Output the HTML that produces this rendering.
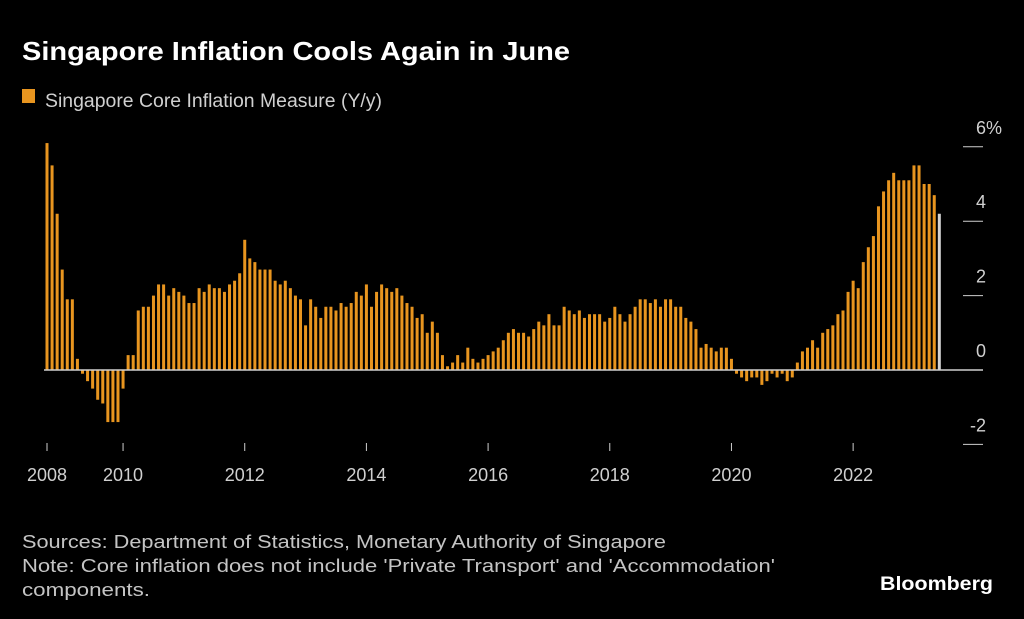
<!DOCTYPE html>
<html><head><meta charset="utf-8"><style>
html,body{margin:0;padding:0;background:#000;}
svg{display:block;font-family:"Liberation Sans",sans-serif;}
</style></head><body>
<svg id="chart" width="1024" height="619" viewBox="0 0 1024 619">
<rect x="0" y="0" width="1024" height="619" fill="#000"/>
<text x="22" y="60" fill="#fff" font-size="26" font-weight="bold" textLength="548" lengthAdjust="spacingAndGlyphs">Singapore Inflation Cools Again in June</text>
<rect x="22" y="89" width="13" height="14" fill="#e8951f"/>
<text x="45" y="107" fill="#d0d0d0" font-size="19" textLength="337" lengthAdjust="spacingAndGlyphs">Singapore Core Inflation Measure (Y/y)</text>
<g id="bars"></g>
<g id="yaxis"></g>
<g id="xaxis"></g>
<text x="22" y="548" fill="#c4c4c4" font-size="18" textLength="644" lengthAdjust="spacingAndGlyphs">Sources: Department of Statistics, Monetary Authority of Singapore</text>
<text x="22" y="572" fill="#c4c4c4" font-size="18" textLength="753" lengthAdjust="spacingAndGlyphs">Note: Core inflation does not include 'Private Transport' and 'Accommodation'</text>
<text x="22" y="596" fill="#c4c4c4" font-size="18" textLength="128" lengthAdjust="spacingAndGlyphs">components.</text>
<text x="880" y="590" fill="#fff" font-size="19" font-weight="bold" textLength="113" lengthAdjust="spacingAndGlyphs">Bloomberg</text>
</svg>
<script>
// Monthly values starting Oct 2008
const startYear = 2008, startMonth = 9; // 0-based month (Oct)
const values = [
6.1,5.5,4.2,2.7,1.9,1.9,0.3,-0.1,-0.3,-0.5,-0.8,-0.9,-1.4,-1.4,-1.4,
-0.5,0.4,0.4,1.6,1.7,1.7,2.0,2.3,2.3,2.0,2.2,2.1,
2.0,1.8,1.8,2.2,2.1,2.3,2.2,2.2,2.1,2.3,2.4,2.6,
3.5,3.0,2.9,2.7,2.7,2.7,2.4,2.3,2.4,2.2,2.0,1.9,
1.2,1.9,1.7,1.4,1.7,1.7,1.6,1.8,1.7,1.8,2.1,2.0,
2.3,1.7,2.1,2.3,2.2,2.1,2.2,2.0,1.8,1.7,1.4,1.5,
1.0,1.3,1.0,0.4,0.1,0.2,0.4,0.2,0.6,0.3,0.2,0.3,
0.4,0.5,0.6,0.8,1.0,1.1,1.0,1.0,0.9,1.1,1.3,1.2,
1.5,1.2,1.2,1.7,1.6,1.5,1.6,1.4,1.5,1.5,1.5,1.3,
1.4,1.7,1.5,1.3,1.5,1.7,1.9,1.9,1.8,1.9,1.7,1.9,
1.9,1.7,1.7,1.4,1.3,1.1,0.6,0.7,0.6,0.5,0.6,0.6,
0.3,-0.1,-0.2,-0.3,-0.2,-0.2,-0.4,-0.3,-0.1,-0.2,-0.1,-0.3,-0.2,
0.2,0.5,0.6,0.8,0.6,1.0,1.1,1.2,1.5,1.6,2.1,
2.4,2.2,2.9,3.3,3.6,4.4,4.8,5.1,5.3,5.1,5.1,5.1,
5.5,5.5,5.0,5.0,4.7,4.2
];
const yTicks = [6,4,2,0,-2];
const yTickLabels = ["6%","4","2","0","-2"];
const xTickYears = [2008,2010,2012,2014,2016,2018,2020,2022];
const xTickIdx = [0,15,39,63,87,111,135,159];

const NS = "http://www.w3.org/2000/svg";
const x0 = 47, step = 5.07, y0 = 370, ppu = 37.2;
function xPos(i){ return x0 + i*step; }
function yPos(v){ return y0 - v*ppu; }
function mk(tag, attrs){ const e=document.createElementNS(NS,tag); for(const k in attrs) e.setAttribute(k,attrs[k]); return e; }

const bars = document.getElementById('bars');
values.forEach((v,i)=>{
  const last = i===values.length-1;
  const top = Math.min(yPos(v), y0), h = Math.abs(yPos(v)-y0);
  const r = mk('rect',{x:(xPos(i)-1.5).toFixed(2),y:top.toFixed(2),width:3,height:Math.max(h,0.5).toFixed(2),fill:last?'#d2d2d2':'#e8951f'});
  
  
  bars.appendChild(r);
});
const base = mk('line',{x1:44,x2:983,y1:y0,y2:y0,stroke:'#cfcfcf','stroke-width':1.5});


bars.appendChild(base);

const ya = document.getElementById('yaxis');
yTicks.forEach((t,i)=>{
  const y = yPos(t);
  const l = mk('line',{x1:963,x2:983,y1:y,y2:y,stroke:'#cfcfcf','stroke-width':1});
  
  
  ya.appendChild(l);
  const tx = mk('text',{x: i===0?1002:986, y:y-13, fill:'#d0d0d0','font-size':18,'text-anchor':'end'});
  tx.textContent = yTickLabels[i];
  
  
  ya.appendChild(tx);
});

const xa = document.getElementById('xaxis');
xTickYears.forEach((yr,i)=>{
  const x = xPos(xTickIdx[i]);
  const l = mk('line',{x1:x,x2:x,y1:443,y2:451,stroke:'#cfcfcf','stroke-width':1});
  
  
  xa.appendChild(l);
  const tx = mk('text',{x:x,y:481,fill:'#d0d0d0','font-size':18,'text-anchor':'middle'});
  tx.textContent = String(yr);
  
  
  xa.appendChild(tx);
});
</script>
</body></html>
